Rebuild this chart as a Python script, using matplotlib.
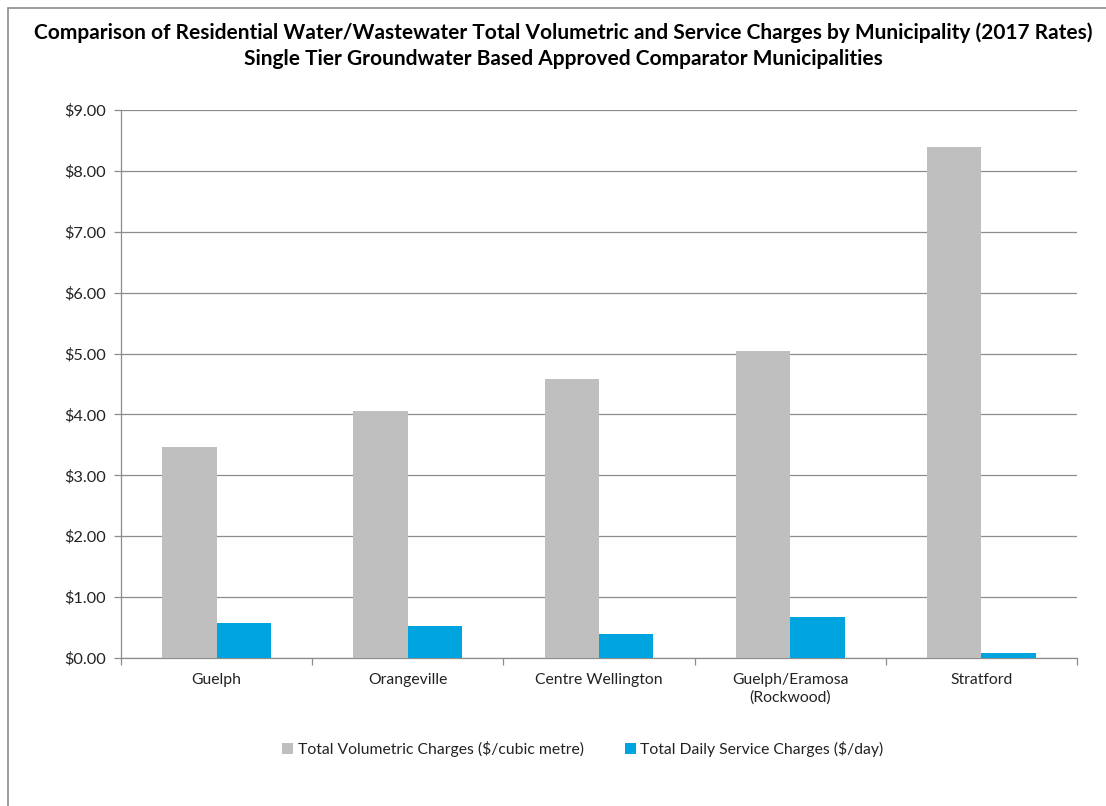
import matplotlib
matplotlib.use("Agg")
import matplotlib.pyplot as plt
import numpy as np
from matplotlib.patches import Rectangle
from matplotlib.ticker import FuncFormatter, FixedLocator

# data
municipalities = ["Guelph", "Orangeville", "Centre Wellington", "Guelph/Eramosa\n(Rockwood)", "Stratford"]
volumetric = [3.46, 4.05, 4.59, 5.05, 8.40]
daily_service = [0.58, 0.53, 0.39, 0.67, 0.09]
series_names = ["Total Volumetric Charges ($/cubic metre)", "Total Daily Service Charges ($/day)"]
title_text = ("Comparison of Residential Water/Wastewater Total Volumetric and Service Charges by Municipality (2017 Rates)\n"
              "Single Tier Groundwater Based Approved Comparator Municipalities")

plt.rcParams["font.family"] = ["Lato", "DejaVu Sans"]

W, H = 1106, 806
fig = plt.figure(figsize=(W / 100, H / 100), dpi=100)
ax = fig.add_axes([121 / W, 1 - 658 / H, (1077 - 121) / W, (658 - 110) / H])

# outer chart border
fig.patches.append(Rectangle((8 / W, -0.1), 1.2, 1 - 8 / H + 0.1, transform=fig.transFigure,
                             fill=False, edgecolor="#8c8c8c", linewidth=1.2))

x = np.arange(len(municipalities))
bw = 0.285
ax.bar(x - bw / 2, volumetric, bw, color="#BFBFBF", label=series_names[0], zorder=3)
ax.bar(x + bw / 2, daily_service, bw, color="#00A5E0", label=series_names[1], zorder=3)

ax.set_xlim(-0.5, len(municipalities) - 0.5)
ax.set_ylim(0, 9)
ax.set_yticks(np.arange(0, 9.01, 1))
ax.yaxis.set_major_formatter(FuncFormatter(lambda v, p: "${:.2f}".format(v)))
ax.grid(axis="y", color="#8c8c8c", linewidth=0.9, zorder=0)

ax.set_xticks(x)
ax.set_xticklabels(municipalities, fontsize=11.3, color="#222222", linespacing=1.3)
ax.xaxis.set_minor_locator(FixedLocator(np.arange(-0.5, len(municipalities), 1)))
ax.tick_params(axis="x", which="major", length=0, pad=11)
ax.tick_params(axis="x", which="minor", length=5, color="#8c8c8c", width=0.9)
ax.tick_params(axis="y", length=5, color="#8c8c8c", width=0.9, labelsize=11.8,
               labelcolor="#222222", pad=6)

for s in ["top", "right"]:
    ax.spines[s].set_visible(False)
for s in ["left", "bottom"]:
    ax.spines[s].set_color("#8c8c8c")
    ax.spines[s].set_linewidth(0.9)

fig.text(563 / W, 1 - 46 / H, title_text, ha="center", va="center", fontsize=15.0,
         fontweight="bold", linespacing=1.38, color="black")

fig.legend(loc="center", bbox_to_anchor=(583 / W, 1 - 749 / H), ncol=2, frameon=False,
           fontsize=11.3, handlelength=0.7, handleheight=0.7, handletextpad=0.3,
           columnspacing=2.6, labelcolor="#222222")

fig.savefig("out.png", dpi=100)
